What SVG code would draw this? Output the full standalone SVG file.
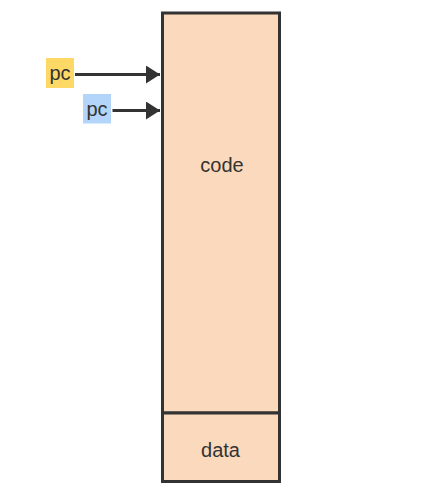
<svg xmlns="http://www.w3.org/2000/svg" width="421" height="502" viewBox="0 0 421 502">
<style>
.box{fill:#FAD9BC;stroke:#333;stroke-width:3}
.t{font-family:"Liberation Sans",Arial,sans-serif;font-size:20px;fill:#333;text-anchor:middle}
.c{stroke:#333;stroke-width:3;fill:none}
</style>
<defs>
<marker id="ah" markerWidth="14" markerHeight="18" refX="14" refY="9" orient="auto" markerUnits="userSpaceOnUse">
<path d="M0,0 L14,9 L0,18 Z" fill="#333"/>
</marker>
</defs>
<rect width="421" height="502" fill="#fff"/>
<g id="code">
<rect class="box" x="162.5" y="13" width="117" height="400"/>
<text class="t" x="222" y="172">code</text>
</g>
<g id="data">
<rect class="box" x="162.5" y="413" width="117" height="68.5"/>
<text class="t" x="220.5" y="457">data</text>
</g>
<g id="pc1">
<rect x="46" y="58" width="28" height="30" fill="#FFD966"/>
<text class="t" x="60" y="79.5">pc</text>
</g>
<g id="pc2">
<rect x="83" y="94" width="28" height="29.5" fill="#B3D5FA"/>
<text class="t" x="97" y="115.5">pc</text>
</g>
<g id="connectors">
<line class="c" x1="75" y1="74.5" x2="160" y2="74.5" marker-end="url(#ah)"/>
<line class="c" x1="112.5" y1="110.5" x2="160" y2="110.5" marker-end="url(#ah)"/>
</g>
</svg>
